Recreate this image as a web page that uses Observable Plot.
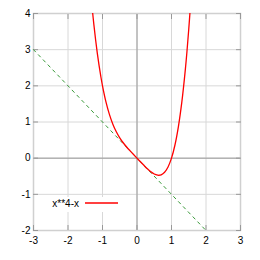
<!DOCTYPE html>
<html>
<head>
<meta charset="utf-8">
<script src="https://cdn.jsdelivr.net/npm/d3@7"></script>
<script src="https://cdn.jsdelivr.net/npm/@observablehq/plot@0.6"></script>
<style>
html,body{margin:0;padding:0;background:#fff;}
svg{font-family:"Liberation Sans",Arial,sans-serif;}
</style>
</head>
<body>
<div id="chart"></div>
<script>
const xTicks = [-3,-2,-1,0,1,2,3];
const yTicks = [-2,-1,0,1,2,3,4];
const curveX = [-1.3,-1.25,-1.2,-1.15,-1.1,-1.05,-1.0,-0.9,-0.8,-0.7,-0.6,-0.5,-0.4,-0.3,-0.2,-0.1,0,0.1,0.2,0.3,0.4,0.5,0.6,0.63,0.7,0.8,0.9,1.0,1.1,1.2,1.3,1.4,1.45,1.5,1.55];
const curveY = [4.156,3.691,3.274,2.899,2.564,2.266,2.0,1.556,1.210,0.940,0.730,0.563,0.426,0.308,0.202,0.100,0,-0.100,-0.198,-0.292,-0.374,-0.438,-0.470,-0.473,-0.460,-0.390,-0.244,0,0.364,0.874,1.556,2.442,2.971,3.563,4.222];
const lineX = [-3, 2];
const lineY = [3, -2];
const legendLabel = "x**4-x";

const curve = curveX.map((x,i)=>({x, y: curveY[i]}));
const dashed = lineX.map((x,i)=>({x, y: lineY[i]}));

const legend = (index, scales, values, dims) => {
  const g = d3.create("svg:g");
  const x0 = dims.marginLeft, y0 = dims.height - dims.marginBottom;
  g.append("rect").attr("x", x0+15).attr("y", y0-33).attr("width", 74).attr("height", 15).attr("fill", "#fff");
  g.append("text").attr("x", x0+46).attr("y", y0-27).attr("dy","0.35em").attr("text-anchor","end")
    .attr("font-size", 10).attr("fill","#000").text(legendLabel);
  g.append("line").attr("x1", x0+52).attr("x2", x0+85).attr("y1", y0-27).attr("y2", y0-27)
    .attr("stroke","#ff0000").attr("stroke-width",1.3);
  return g.node();
};

const chart = Plot.plot({
  width: 260, height: 260,
  marginLeft: 33, marginRight: 20, marginTop: 13, marginBottom: 30,
  x: {domain: [-3, 3]},
  y: {domain: [-2, 4]},
  style: {fontSize: "10px", fontFamily: "Liberation Sans, Arial, sans-serif", color: "#000"},
  marks: [
    Plot.gridX(xTicks, {stroke: "#d8d8d8", strokeOpacity: 1}),
    Plot.gridY(yTicks, {stroke: "#d8d8d8", strokeOpacity: 1}),
    Plot.ruleX([0], {stroke: "#9a9a9a"}),
    Plot.ruleY([0], {stroke: "#9a9a9a"}),
    Plot.frame({stroke: "#d0d0d0", strokeWidth: 1.5}),
    Plot.axisX(xTicks, {anchor: "bottom", tickSize: -5, stroke: "#999", tickPadding: 11, tickFormat: d => String(d), label: null}),
    Plot.axisX(xTicks, {anchor: "top", tickSize: -5, stroke: "#999", text: null, label: null}),
    Plot.axisY(yTicks, {anchor: "left", tickSize: -5, stroke: "#999", tickPadding: 8, tickFormat: d => String(d), label: null}),
    Plot.axisY(yTicks, {anchor: "right", tickSize: -5, stroke: "#999", text: null, label: null}),
    legend,
    Plot.line(dashed, {x: "x", y: "y", stroke: "#3a9a3a", strokeWidth: 1, strokeDasharray: "3,4"}),
    Plot.line(curve, {x: "x", y: "y", stroke: "#ff0000", strokeWidth: 1.3, curve: "catmull-rom", clip: true})
  ]
});
document.getElementById("chart").appendChild(chart);
</script>
</body>
</html>
